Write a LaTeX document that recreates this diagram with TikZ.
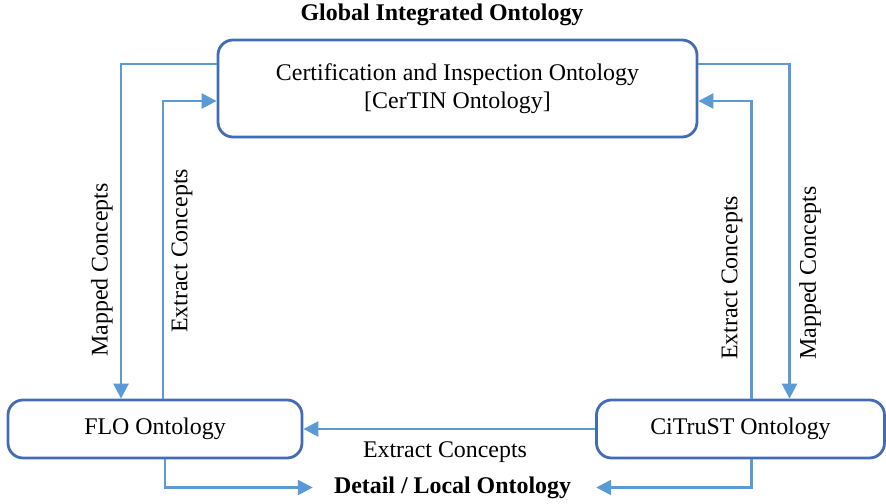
\documentclass[tikz,border=0pt]{standalone}
\usepackage{fontspec}
\setmainfont{Liberation Serif}
\usetikzlibrary{arrows.meta}
\definecolor{boxblue}{RGB}{68,108,180}
\definecolor{arrowblue}{RGB}{91,155,213}

\begin{document}
\begin{tikzpicture}[
  font=\fontsize{13.6}{16}\selectfont,
  onto/.style={draw=boxblue,line width=1.6pt,rounded corners=0.3cm,align=center,minimum height=1.16cm},
  flow/.style={draw=arrowblue,line width=1.5pt,-{Triangle[length=0.3cm,width=0.3cm]}},
  lbl/.style={rotate=90}
]
\useasboundingbox (0,0) rectangle (17.72,10.06);
\node(title) at (8.84,9.76) {\textbf{Global Integrated Ontology}};
\node(certin) at (9.15,8.29)[onto,minimum width=9.58cm,minimum height=1.94cm] {Certification and Inspection Ontology\\{[CerTIN Ontology]}};
\node(flo) at (3.1,1.48)[onto,minimum width=5.88cm]         {FLO Ontology};
\node(citrust) at (14.81,1.48)[onto,minimum width=5.76cm]   {CiTruST Ontology};
\node(detail) at (9.05,0.31)                                {\textbf{Detail / Local Ontology}};

% concept labels
\node(mapflo) at (2.04,4.66)[lbl]   {Mapped Concepts};
\node(extflo) at (3.64,5.04)[lbl]   {Extract Concepts};
\node(extcit) at (14.64,4.5)[lbl]   {Extract Concepts};
\node(mapcit) at (16.2,4.6)[lbl]    {Mapped Concepts};
\node(extbot) at (8.9,1.02)         {Extract Concepts};

\draw[flow] ([yshift=0.49cm]certin.west) -| ([xshift=-0.68cm]flo.north);
\draw[flow] ([xshift=0.16cm]flo.north)   |- ([yshift=-0.25cm]certin.west);
\draw[flow] ([yshift=0.49cm]certin.east) -| ([xshift=0.98cm]citrust.north);
\draw[flow] ([xshift=0.22cm]citrust.north) |- ([yshift=-0.25cm]certin.east);
\draw[flow] (citrust.west) -- (flo.east);
\draw[flow] ([xshift=0.2cm]flo.south)    |- ([xshift=-0.3cm]detail.west);
\draw[flow] ([xshift=0.22cm]citrust.south) |- ([xshift=0.38cm]detail.east);

\end{tikzpicture}
\end{document}
